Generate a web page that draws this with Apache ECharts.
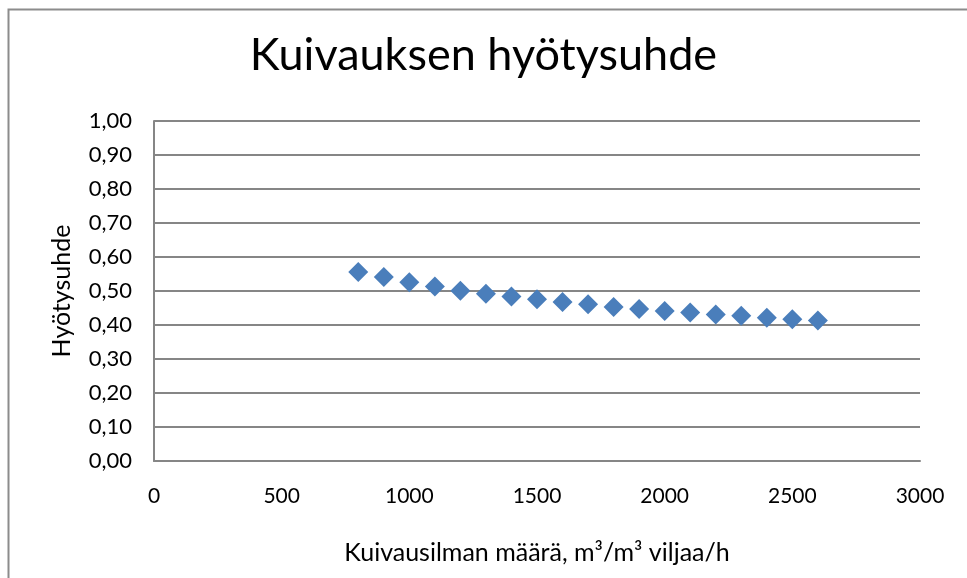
<!DOCTYPE html>
<html><head><meta charset="utf-8">
<script src="https://cdn.jsdelivr.net/npm/echarts@6/dist/echarts.min.js"></script>
<style>html,body{margin:0;padding:0;background:#fff}#c{width:967px;height:578px}</style>
</head><body><div id="c"></div>
<script>
const xValues = [800, 900, 1000, 1100, 1200, 1300, 1400, 1500, 1600, 1700, 1800, 1900, 2000, 2100, 2200, 2300, 2400, 2500, 2600];
const yValues = [0.556, 0.541, 0.526, 0.513, 0.501, 0.492, 0.484, 0.476, 0.468, 0.461, 0.453, 0.447, 0.441, 0.437, 0.431, 0.427, 0.421, 0.417, 0.413];
const titleText = 'Kuivauksen hyötysuhde';
const xName = 'Kuivausilman määrä, m³/m³ viljaa/h';
const yName = 'Hyötysuhde';

const font = 'Lato, "Open Sans", sans-serif';
const chart = echarts.init(document.getElementById('c'), null, {renderer: 'canvas'});
chart.setOption({
  animation: false,
  backgroundColor: '#fff',
  graphic: [{
    type: 'polyline', silent: true,
    shape: {points: [[8.5, 578], [8.5, 9.5], [967, 9.5]]},
    style: {stroke: '#8c8c8c', lineWidth: 2, fill: null}
  }],
  title: {
    text: titleText, left: 'center', top: 28,
    textStyle: {fontFamily: font, fontSize: 45, fontWeight: 'normal', color: '#000'}
  },
  grid: {left: 154, right: 47, top: 121, bottom: 117},
  xAxis: {
    type: 'value', min: 0, max: 3000, interval: 500,
    name: xName, nameLocation: 'middle', nameGap: 79,
    nameTextStyle: {fontFamily: font, fontSize: 25, color: '#000'},
    axisLine: {show: true, lineStyle: {color: '#868686', width: 2}},
    axisTick: {show: false},
    splitLine: {show: false},
    axisLabel: {fontFamily: font, fontSize: 21, color: '#000', margin: 25,
      formatter: v => String(v)}
  },
  yAxis: {
    type: 'value', min: 0, max: 1, interval: 0.1,
    name: yName, nameLocation: 'middle', nameGap: 80,
    nameTextStyle: {fontFamily: font, fontSize: 25, color: '#000'},
    axisLine: {show: true, lineStyle: {color: '#868686', width: 2}},
    axisTick: {show: false},
    splitLine: {show: true, lineStyle: {color: '#868686', width: 2}},
    axisLabel: {fontFamily: font, fontSize: 22, color: '#000', margin: 22,
      formatter: v => v.toFixed(2).replace('.', ',')}
  },
  series: [{
    type: 'scatter',
    data: xValues.map((x, i) => [x, yValues[i]]),
    symbol: 'diamond', symbolSize: 20,
    itemStyle: {color: '#4a7ebb', opacity: 1}
  }]
});
</script></body></html>
